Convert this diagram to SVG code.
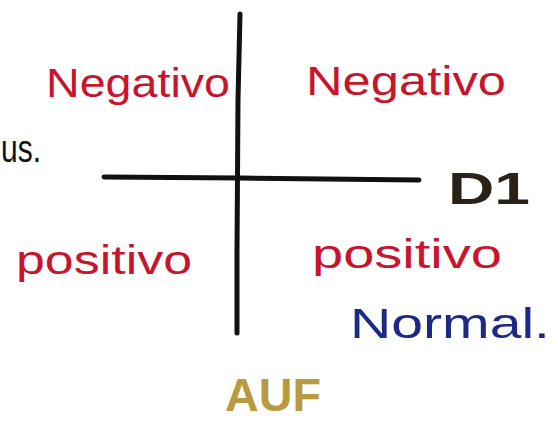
<svg xmlns="http://www.w3.org/2000/svg" width="558" height="424" viewBox="0 0 558 424">
<style>
.t{font-family:"Liberation Sans",Arial,sans-serif;}
.red{fill:#c8142c;}
.ax{stroke:#111;stroke-width:5;stroke-linecap:round;fill:none;}
</style>
<rect width="558" height="424" fill="#ffffff"/>
<g id="connectors">
<path class="ax" d="M240,14 L238,100 L237,250 L237,333"/>
<path class="ax" d="M104,177 L240,178 L419,180"/>
</g>
<g id="q1"><text class="t red" x="46" y="97" font-size="40" textLength="184" lengthAdjust="spacingAndGlyphs">Negativo</text></g>
<g id="q2"><text class="t red" x="306" y="95" font-size="40" textLength="200" lengthAdjust="spacingAndGlyphs">Negativo</text></g>
<g id="q3"><text class="t red" x="16" y="274" font-size="40" textLength="176" lengthAdjust="spacingAndGlyphs">positivo</text></g>
<g id="q4"><text class="t red" x="312" y="268" font-size="40" textLength="190" lengthAdjust="spacingAndGlyphs">positivo</text></g>
<g id="normal"><text class="t" x="350" y="338" font-size="42" fill="#1c2a86" textLength="200" lengthAdjust="spacingAndGlyphs">Normal.</text></g>
<g id="d1"><text class="t" x="448" y="204" font-size="44" font-weight="bold" fill="#2a2218" textLength="82" lengthAdjust="spacingAndGlyphs">D1</text></g>
<g id="auf"><text class="t" x="225" y="411" font-size="46" font-weight="bold" fill="#b99a3e" textLength="96" lengthAdjust="spacingAndGlyphs">AUF</text></g>
<g id="us"><text class="t" x="1" y="162" font-size="38" fill="#111" textLength="40" lengthAdjust="spacingAndGlyphs">us.</text></g>
</svg>
